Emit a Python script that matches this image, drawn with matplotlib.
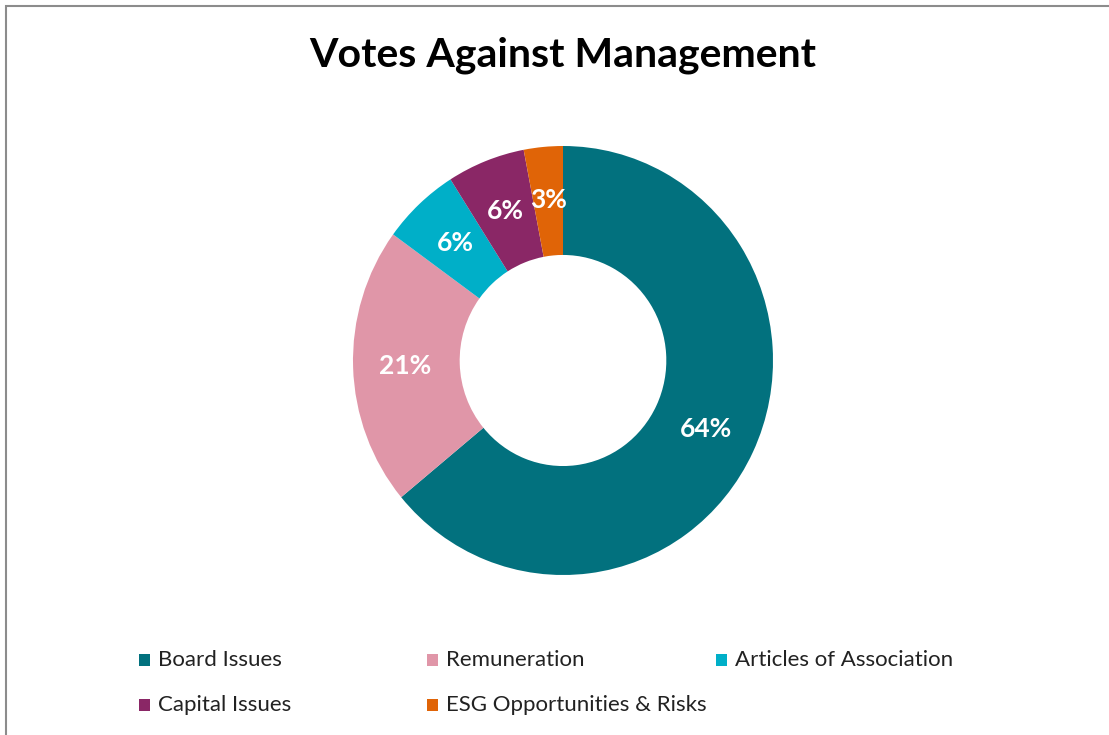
import matplotlib.pyplot as plt
from matplotlib.patches import Rectangle
import numpy as np

# datos
categorias = ['Board Issues', 'Remuneration', 'Articles of Association',
              'Capital Issues', 'ESG Opportunities & Risks']
valores = [64, 21, 6, 6, 3]
etiquetas = ['64%', '21%', '6%', '6%', '3%']
colores = ['#02717E', '#E096A8', '#00AFC8', '#8A2766', '#E06407']

plt.rcParams['font.family'] = ['Lato', 'DejaVu Sans']

W, H = 1109, 735
fig = plt.figure(figsize=(W/100, H/100), dpi=100, facecolor='white')

# borde del grafico
fig.add_artist(Rectangle((6/W, -0.1), 1.2, (H-6)/H + 0.1, transform=fig.transFigure,
                         fill=False, edgecolor='#8c8c8c', linewidth=1.5))

fig.text(563/W, 1 - 55/H, 'Votes Against Management', ha='center', va='center',
         fontsize=29.5, fontweight='bold', color='black')

# dona (un poco achatada como en la imagen original)
cx, cy, Rx, Ry = 563, 360.5, 210, 214.5
ax = fig.add_axes([(cx-Rx)/W, (H-cy-Ry)/H, 2*Rx/W, 2*Ry/H])
wedges, _ = ax.pie(valores, colors=colores, startangle=90, counterclock=False,
                   radius=1, wedgeprops=dict(width=0.508, linewidth=0))
ax.set_xlim(-1, 1)
ax.set_ylim(-1, 1)
ax.set_aspect('auto')
ax.axis('off')

r_lab = 0.75
for w, t in zip(wedges, etiquetas):
    ang = np.deg2rad((w.theta1 + w.theta2) / 2)
    ax.text(r_lab*np.cos(ang), r_lab*np.sin(ang), t, ha='center', va='center',
            color='white', fontsize=19, fontweight='bold')

# leyenda a mano
xs = [145, 433, 722]
ys = [660, 705]
for i, (c, col) in enumerate(zip(categorias, colores)):
    x = xs[i % 3]
    y = ys[i // 3]
    fig.add_artist(Rectangle(((x-6)/W, 1-(y+6)/H), 11/W, 12/H, transform=fig.transFigure,
                             facecolor=col, edgecolor='none'))
    fig.text((x+13)/W, 1-y/H, c, ha='left', va='center', fontsize=16, color='#222222')

fig.savefig('out.png', dpi=100, facecolor='white')
